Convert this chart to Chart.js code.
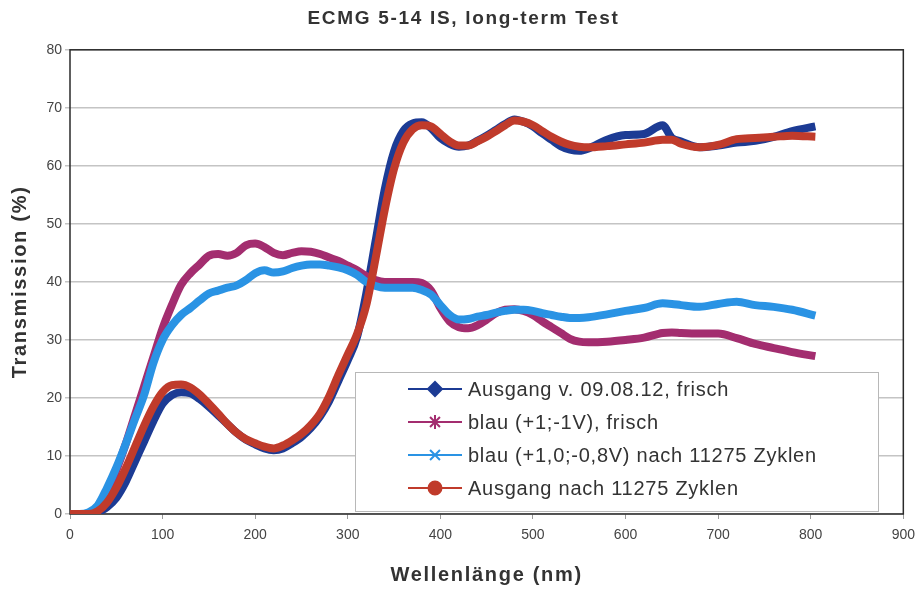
<!DOCTYPE html>
<html>
<head>
<meta charset="utf-8">
<title>ECMG 5-14 IS, long-term Test</title>
<script src="https://cdn.jsdelivr.net/npm/chart.js"></script>
<style>
  html, body { margin: 0; padding: 0; background: #fff; }
  #wrap { width: 923px; height: 591px; }
</style>
</head>
<body>
<div id="wrap"><canvas id="chart" width="923" height="591"></canvas></div>
<script>
// wavelength (nm) sample points
const wavelengths = [0, 10, 20, 30, 40, 50, 60, 70, 80, 90, 100, 110, 120, 130, 140, 150, 160, 170, 180, 190,
  200, 210, 220, 230, 240, 250, 260, 270, 280, 290, 300, 310, 320, 330, 340, 350, 360, 370, 380, 390,
  400, 410, 420, 430, 440, 450, 460, 470, 480, 490, 500, 510, 520, 530, 540, 550, 560, 580, 600, 620,
  640, 650, 660, 680, 700, 720, 740, 760, 780, 805];

// Ausgang v. 09.08.12, frisch
const ausgangFrisch = [0, 0, 0, 0.3, 1.2, 2.8, 5.5, 9, 12.5, 16, 19, 20.5, 21, 20.8, 19.8, 18.5, 17, 15.5, 14, 12.8,
  12, 11.3, 11, 11.3, 12.2, 13.3, 14.8, 16.8, 19.5, 23, 26.5, 30.5, 38, 47, 56, 62.5, 66, 67.3, 67.5, 66.5,
  64.8, 63.8, 63.3, 63.5, 64.3, 65.2, 66.2, 67.2, 68, 67.6, 66.8, 65.6, 64.5, 63.4, 62.8, 62.6, 63, 64.5, 65.3, 65.5,
  67, 64.8, 64.2, 63.2, 63.5, 64, 64.3, 65, 66, 66.8];

// blau (+1;-1V), frisch
const blauFrisch = [0, 0, 0, 0.8, 3.5, 7.5, 12, 17, 22, 27, 32, 36, 39.5, 41.5, 43, 44.5, 44.8, 44.5, 45, 46.3,
  46.6, 46, 45, 44.6, 45, 45.3, 45.2, 44.8, 44.2, 43.6, 42.8, 42, 41, 40.3, 40, 40, 40, 40, 39.8, 38.5,
  35.5, 33.2, 32.2, 32, 32.5, 33.5, 34.6, 35.2, 35.3, 35, 34.3, 33.2, 32.2, 31.2, 30.2, 29.7, 29.6, 29.7, 30, 30.4,
  31.2, 31.3, 31.2, 31.1, 31.1, 30.3, 29.3, 28.6, 27.9, 27.2];

// blau (+1,0;-0,8V) nach 11275 Zyklen
const blauZyklen = [0, 0, 0.3, 1.5, 4.5, 8, 12, 16.3, 20.5, 26, 30, 32.5, 34.3, 35.5, 36.8, 38, 38.5, 39, 39.4, 40.3,
  41.5, 42, 41.6, 41.8, 42.4, 42.8, 43, 43, 42.8, 42.5, 42, 41.2, 40, 39.3, 39, 39, 39, 39, 38.6, 37.8,
  36, 34.3, 33.5, 33.6, 34, 34.3, 34.7, 35, 35.2, 35.2, 35, 34.6, 34.3, 34, 33.8, 33.8, 33.9, 34.4, 35, 35.5,
  36.3, 36.2, 36, 35.7, 36.2, 36.6, 36, 35.7, 35.2, 34.2];

// Ausgang nach 11275 Zyklen
const ausgangZyklen = [0, 0, 0, 0.5, 2, 4.5, 7.8, 11.5, 15.2, 18.5, 21, 22.2, 22.3, 21.8, 20.6, 19, 17.3, 15.5, 14, 12.9,
  12.2, 11.6, 11.3, 11.8, 12.7, 13.8, 15.3, 17.3, 20.3, 24, 27.5, 31, 36, 44, 52.5, 59.5, 64, 66.3, 67, 66.8,
  65.5, 64.2, 63.5, 63.5, 64.2, 65, 66, 67, 67.8, 67.6, 67, 66, 65, 64.2, 63.6, 63.3, 63.2, 63.4, 63.7, 64,
  64.5, 64.5, 63.8, 63.2, 63.6, 64.6, 64.8, 65, 65.2, 65];

const seriesNames = [
  "Ausgang v. 09.08.12, frisch",
  "blau (+1;-1V), frisch",
  "blau (+1,0;-0,8V) nach 11275 Zyklen",
  "Ausgang nach 11275 Zyklen"
];
const seriesColors = ["#1c3b94", "#a32d6f", "#2a93e4", "#c03b2b"];
const seriesMarkers = ["rectRot", "star", "crossRot", "circle"];
const seriesValues = [ausgangFrisch, blauFrisch, blauZyklen, ausgangZyklen];

const yTicks = [0, 10, 20, 30, 40, 50, 60, 70, 80];
const xTicks = [0, 100, 200, 300, 400, 500, 600, 700, 800, 900];

const toPoints = (vals) => wavelengths.map((w, i) => ({ x: w, y: vals[i] }));

// the bold titles in the original are spaced out; tick labels are not
const spacing = {
  id: "spacing",
  beforeDraw(chart) { chart.ctx.letterSpacing = "1.7px"; },
  beforeDatasetsDraw(chart) { chart.ctx.letterSpacing = "0px"; }
};

// frame around the plot area
const framePlugin = {
  id: "frame",
  beforeDatasetsDraw(chart) {
    const { ctx, chartArea: a } = chart;
    ctx.save();
    ctx.strokeStyle = "#2a2a2a";
    ctx.lineWidth = 1.5;
    ctx.strokeRect(a.left, a.top, a.right - a.left, a.bottom - a.top);
    ctx.restore();
  }
};

// legend box inside the plot, lower right
const boxLegend = {
  id: "boxLegend",
  afterDraw(chart) {
    const ctx = chart.ctx;
    const bx = 355, by = 372, bw = 523, bh = 139;
    ctx.save();
    ctx.fillStyle = "#fff";
    ctx.fillRect(bx, by, bw, bh);
    ctx.strokeStyle = "#b8b8b8";
    ctx.lineWidth = 1;
    ctx.strokeRect(bx + 0.5, by + 0.5, bw, bh);
    seriesNames.forEach((name, i) => {
      const y = 389 + i * 33;
      ctx.letterSpacing = "0px";
      ctx.strokeStyle = seriesColors[i];
      ctx.fillStyle = seriesColors[i];
      ctx.lineWidth = 2;
      ctx.beginPath();
      ctx.moveTo(408, y);
      ctx.lineTo(462, y);
      ctx.stroke();
      Chart.helpers.drawPoint(ctx, {
        pointStyle: seriesMarkers[i],
        radius: i === 3 ? 6.5 : 7,
        rotation: 0,
        borderWidth: 2
      }, 435, y);
      ctx.fillStyle = "#333";
      ctx.font = "20px 'Liberation Sans', Arial, sans-serif";
      ctx.letterSpacing = "0.75px";
      ctx.textBaseline = "middle";
      ctx.textAlign = "left";
      ctx.fillText(name, 468, y + 1);
    });
    ctx.restore();
  }
};

new Chart(document.getElementById("chart"), {
  type: "line",
  data: {
    datasets: seriesNames.map((name, i) => ({
      label: name,
      data: toPoints(seriesValues[i]),
      borderColor: seriesColors[i],
      backgroundColor: seriesColors[i],
      borderWidth: 8,
      pointRadius: 0,
      tension: 0.4,
      cubicInterpolationMode: "monotone",
      order: 4 - i
    }))
  },
  options: {
    responsive: false,
    animation: false,
    devicePixelRatio: 1,
    layout: { padding: { left: 20, right: 16, top: 0, bottom: 0 } },
    plugins: {
      legend: { display: false },
      tooltip: { enabled: false },
      title: {
        display: true,
        text: "ECMG 5-14 IS, long-term Test",
        color: "#333",
        font: { family: "'Liberation Sans', Arial, sans-serif", size: 19, weight: "bold" },
        padding: { top: 7, bottom: 20 }
      }
    },
    scales: {
      x: {
        type: "linear",
        min: 0,
        max: 900,
        afterBuildTicks: (s) => { s.ticks = xTicks.map((v) => ({ value: v })); },
        afterFit: (s) => { s.height = 77; },
        grid: { drawOnChartArea: false, color: "#999", tickLength: 5 },
        border: { display: false },
        ticks: {
          z: 1,
          color: "#444",
          padding: 8,
          font: { family: "'Liberation Sans Narrow', 'Liberation Sans', sans-serif", size: 14 }
        },
        title: {
          display: true,
          text: "Wellenlänge (nm)",
          color: "#333",
          font: { family: "'Liberation Sans', Arial, sans-serif", size: 20, weight: "bold" },
          padding: { top: 0, bottom: 4 }
        }
      },
      y: {
        min: 0,
        max: 80,
        afterBuildTicks: (s) => { s.ticks = yTicks.map((v) => ({ value: v })); },
        afterFit: (s) => { s.width = 50; },
        grid: { color: "#c4c4c4", lineWidth: 1.5, tickLength: 5 },
        border: { display: false },
        ticks: {
          z: 1,
          color: "#444",
          padding: 3,
          font: { family: "'Liberation Sans Narrow', 'Liberation Sans', sans-serif", size: 14 }
        },
        title: {
          display: true,
          text: "Transmission (%)",
          color: "#333",
          font: { family: "'Liberation Sans', Arial, sans-serif", size: 20, weight: "bold" },
          padding: { top: -12, bottom: 0 }
        }
      }
    }
  },
  plugins: [spacing, framePlugin, boxLegend]
});
</script>
</body>
</html>
